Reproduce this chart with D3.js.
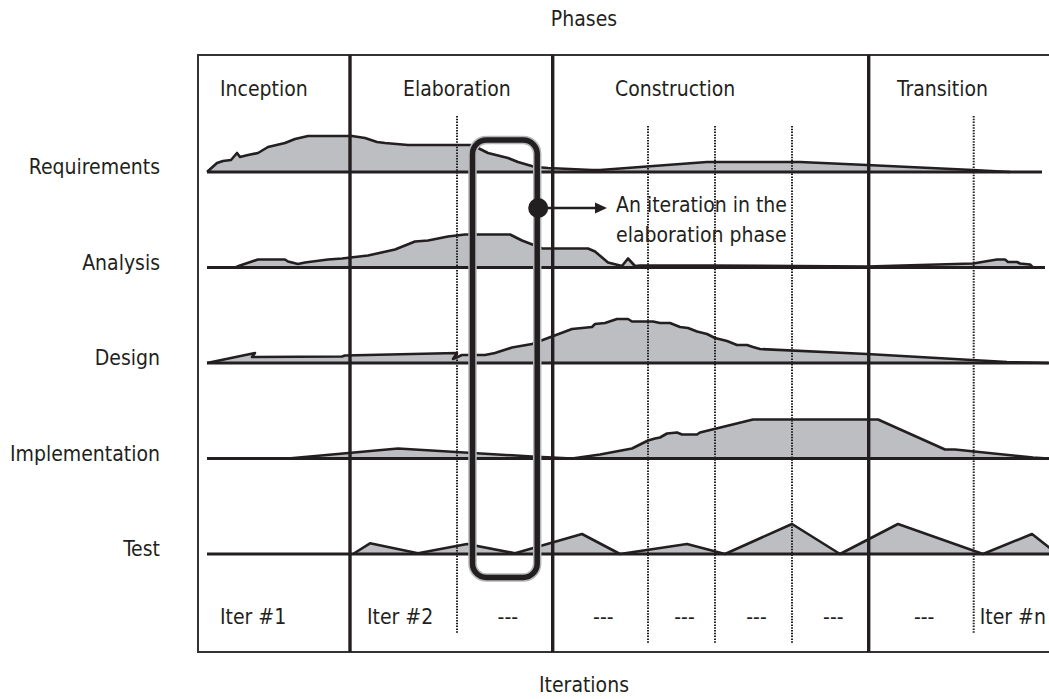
<!DOCTYPE html>
<html lang="en">
<head>
<meta charset="utf-8">
<title>Phases and iterations</title>
<script src="https://d3js.org/d3.v7.min.js"></script>
<style>
  body { margin: 0; background: #fff; }
  svg text { font-family: "DejaVu Sans Condensed", "DejaVu Sans", sans-serif; font-stretch: condensed; font-size: 21px; fill: #231f20; }
</style>
</head>
<body>
<svg id="chart" width="1049" height="699"></svg>
<script>
// project time runs 0..851, effort is drawn in points above each workflow baseline
var phases = ["Inception", "Elaboration", "Construction", "Transition"];
var phaseEnd = [152, 354.7, 670.7, 851];
var iterEnd = [152, 259, 354.7, 450, 517, 594, 670.7, 775.7, 851];
var iterLabels = ["Iter #1", "Iter #2", "---", "---", "---", "---", "---", "---", "Iter #n"];
var workflows = ["Requirements", "Analysis", "Design", "Implementation", "Test"];
var workflowEnd = [844, 847, 855, 855, 855];

var requirements = [[9,0],[19,9],[25,11],[33,12],[39,19],[42,15],[50,17],[60,19],[70,25],[87,29],[97,33],[110,36],
  [154,36],[167,34],[179,30],[187,29],[210,27],[272,27],[280,24],[290,19],[310,14],[320,10],[337,5],[350,4],
  [394,2],[402,2],[509,10],[602,10],[669,7],[775,2],[812,0]];
var analysis = [[37,0],[42,2],[60,8],[87,8],[90,6],[100,3.5],[107,5],[130,8],[144,9],[170,12],[197,18],[217,26],
  [230,27],[250,31],[267,33],[312,33],[324,27],[337,22],[344,19],[390,19],[397,16],[410,5],[424,1.5],[430,9],
  [437,1.5],[442,2],[512,2],[669,1],[775,4],[799,8],[807,8],[810,5.5],[819,5.5],[822,4],[832,3],[835,0]];
var design = [[9,0],[57,10],[54,6],[144,6.5],[147,7.5],[259,10],[255,4],[264,8],[287,8],[297,10],[314,15.5],
  [334,19],[350,25],[374,34],[394,36],[397,39],[407,40],[419,44],[430,44],[434,41.5],[455,41.5],[462,40],
  [472,40],[482,36],[490,35],[499,31.5],[509,29],[517,25],[529,22],[539,18],[549,18],[555,16],[562,14],
  [669,9],[809,1],[850,0]];
var implementation = [[90,0],[200,10],[334,2],[374,0],[402,4],[434,10],[442,14],[450,18],[457,20],[462,21],
  [469,25],[479,26],[484,24],[499,24],[502,26],[555,39],[680,39],[747,9],[757,9],[835,1],[850,0]];
var test = [[155,0],[172,10.7],[220,0.7],[269,10],[317,0.7],[384,20],[422,0],[489,10],[527,0],[594,30],
  [642,0],[700,30],[785,0],[834,20],[853,5]];
var series = [requirements, analysis, design, implementation, test];

var ink = "#231f20", fillGray = "#bdbec1";
var svg = d3.select("#chart");
var boxTop = 55, boxBottom = 652;

var x = d3.scaleLinear().domain([0, 851]).range([198, 1049]);
var row = d3.scalePoint().domain(workflows).range([172, 554]);
var effort = d3.scaleLinear().domain([0, 44]).range([0, 44]);

// titles
svg.append("text").attr("x", 584).attr("y", 26).attr("text-anchor", "middle").text("Phases");
svg.append("text").attr("x", 584).attr("y", 692).attr("text-anchor", "middle").text("Iterations");

// outer frame
svg.append("rect").attr("x", x(0)).attr("y", boxTop).attr("width", x(855) - x(0)).attr("height", boxBottom - boxTop)
  .attr("fill", "none").attr("stroke", "#333").attr("stroke-width", 2);

// workflow areas
workflows.forEach(function(w, i) {
  var base = row(w);
  var area = d3.area().x(function(d) { return x(d[0]); }).y0(base).y1(function(d) { return base - effort(d[1]); });
  var line = d3.line().x(function(d) { return x(d[0]); }).y(function(d) { return base - effort(d[1]); });
  svg.append("path").attr("d", area(series[i])).attr("fill", fillGray);
  svg.append("path").attr("d", line(series[i])).attr("fill", "none").attr("stroke", ink)
    .attr("stroke-width", 2.6).attr("stroke-linejoin", "round");
  svg.append("line").attr("x1", x(9)).attr("x2", x(workflowEnd[i])).attr("y1", base).attr("y2", base)
    .attr("stroke", ink).attr("stroke-width", 3);
  svg.append("text").attr("x", 160).attr("y", base + 2).attr("text-anchor", "end").text(w);
});

// iteration dividers (dotted) and labels
iterEnd.forEach(function(t, i) {
  var start = i === 0 ? 0 : iterEnd[i - 1];
  var phaseIdx = phaseEnd.findIndex(function(p) { return start < p; });
  if (phaseEnd.indexOf(t) < 0) {
    var off = phaseIdx === 2 ? 10 : 0;
    svg.append("line").attr("x1", x(t)).attr("x2", x(t)).attr("y1", 116 + off).attr("y2", 633 + off)
      .attr("stroke", ink).attr("stroke-width", 2).attr("stroke-dasharray", "1.5,1.3");
  }
  var lab = iterLabels[i];
  var t0 = svg.append("text").attr("y", 624).text(lab);
  if (lab === "---") {
    t0.attr("x", (x(start) + x(t)) / 2 + 3).attr("text-anchor", "middle");
  } else {
    var pad = i === 0 ? 22 : (i === 1 ? 17 : 6);
    t0.attr("x", x(start) + pad);
  }
});

// phase dividers and labels
var phaseLabelX = [220, 403, 615, 897];
phases.forEach(function(p, i) {
  if (i < phases.length - 1) {
    svg.append("line").attr("x1", x(phaseEnd[i])).attr("x2", x(phaseEnd[i])).attr("y1", boxTop).attr("y2", boxBottom)
      .attr("stroke", ink).attr("stroke-width", 3.4);
  }
  svg.append("text").attr("x", phaseLabelX[i]).attr("y", 96).text(p);
});

// callout around one elaboration iteration
var cx0 = x(iterEnd[1]) + 15.5, cx1 = x(iterEnd[2]) - 15.5;
var cy0 = row("Requirements") - 32, cy1 = row("Test") + 23.5;
svg.append("rect").attr("x", cx0).attr("y", cy0).attr("width", cx1 - cx0).attr("height", cy1 - cy0)
  .attr("rx", 14).attr("fill", "none").attr("stroke", "#b5b6b9").attr("stroke-width", 8.5);
svg.append("rect").attr("x", cx0).attr("y", cy0).attr("width", cx1 - cx0).attr("height", cy1 - cy0)
  .attr("rx", 14).attr("fill", "none").attr("stroke", ink).attr("stroke-width", 5.5);

var ay = 208;
svg.append("circle").attr("cx", cx1 + 1).attr("cy", ay).attr("r", 10).attr("fill", ink);
svg.append("line").attr("x1", cx1).attr("x2", 597).attr("y1", ay).attr("y2", ay)
  .attr("stroke", ink).attr("stroke-width", 2.4);
svg.append("path").attr("d", d3.line()([[595, ay - 5.5], [607, ay], [595, ay + 5.5]]) + "Z").attr("fill", ink);
svg.append("text").attr("x", 616).attr("y", 212).text("An iteration in the");
svg.append("text").attr("x", 616).attr("y", 241.5).text("elaboration phase");
</script>
</body>
</html>
